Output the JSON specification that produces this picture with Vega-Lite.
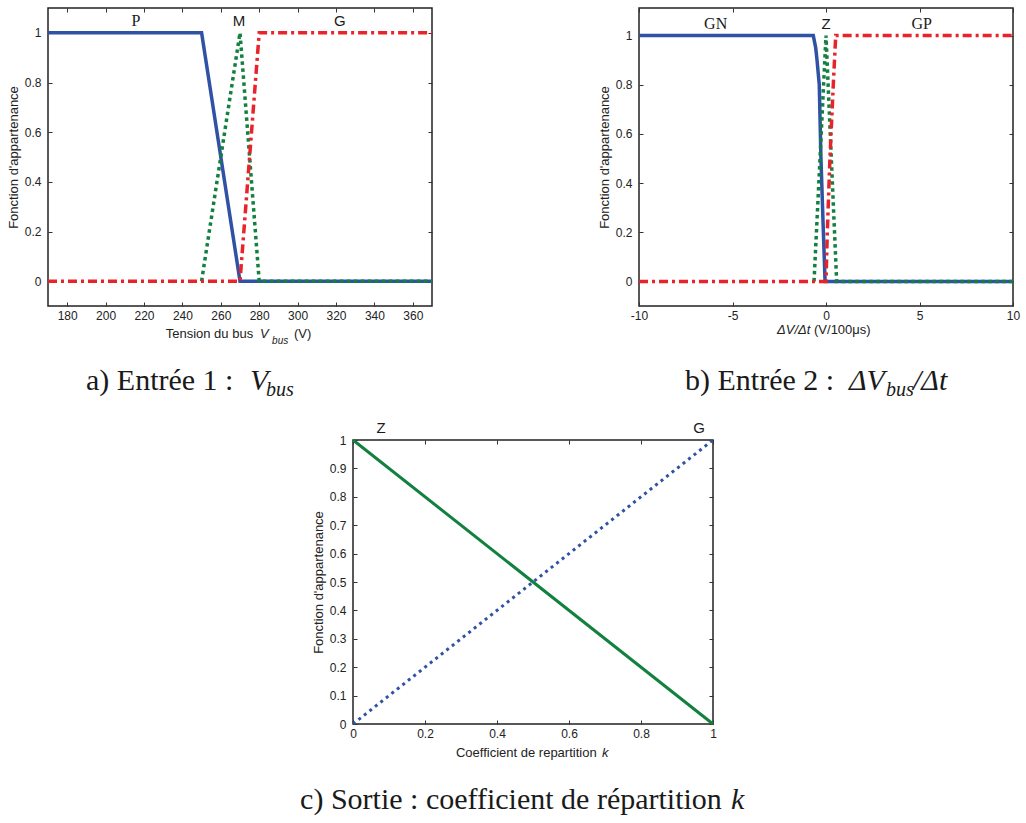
{
  "$schema": "https://vega.github.io/schema/vega-lite/v6.json",
  "background": "white",
  "padding": {"left": 6, "top": 6, "right": 5, "bottom": 5},
  "config": {
    "view": {"stroke": "#222", "strokeWidth": 1.5},
    "axis": {"domain": false, "grid": false, "ticks": true, "tickSize": -4, "tickColor": "#333", "tickWidth": 1, "labelFont": "Liberation Sans", "labelFontSize": 12, "labelColor": "#222", "labelPadding": 11, "labelFlush": false, "labelOverlap": false, "titleFont": "Liberation Sans", "titleFontSize": 13, "titleFontWeight": "normal", "titleColor": "#222", "titlePadding": 4}
  },
  "datasets": {
    "a": [
      {"s": "P", "x": 170, "y": 1}, {"s": "P", "x": 250, "y": 1}, {"s": "P", "x": 270, "y": 0}, {"s": "P", "x": 370, "y": 0},
      {"s": "M", "x": 250, "y": 0}, {"s": "M", "x": 270, "y": 1}, {"s": "M", "x": 280, "y": 0}, {"s": "M", "x": 370, "y": 0},
      {"s": "G", "x": 170, "y": 0}, {"s": "G", "x": 270, "y": 0}, {"s": "G", "x": 280, "y": 1}, {"s": "G", "x": 370, "y": 1}
    ],
    "b": [
      {"s": "GN", "x": -10, "y": 1}, {"s": "GN", "x": -0.68, "y": 1}, {"s": "GN", "x": -0.55, "y": 0.95}, {"s": "GN", "x": -0.48, "y": 0.9}, {"s": "GN", "x": -0.36, "y": 0.8}, {"s": "GN", "x": -0.27, "y": 0.5}, {"s": "GN", "x": -0.14, "y": 0.2}, {"s": "GN", "x": -0.05, "y": 0}, {"s": "GN", "x": 10, "y": 0},
      {"s": "Z", "x": -0.64, "y": 0}, {"s": "Z", "x": 0, "y": 1}, {"s": "Z", "x": 0.57, "y": 0}, {"s": "Z", "x": 10, "y": 0},
      {"s": "GP", "x": -10, "y": 0}, {"s": "GP", "x": 0, "y": 0}, {"s": "GP", "x": 0.07, "y": 0.2}, {"s": "GP", "x": 0.21, "y": 0.5}, {"s": "GP", "x": 0.39, "y": 0.8}, {"s": "GP", "x": 0.52, "y": 1}, {"s": "GP", "x": 10, "y": 1}
    ],
    "c": [
      {"s": "Z", "x": 0, "y": 1}, {"s": "Z", "x": 1, "y": 0},
      {"s": "G", "x": 0, "y": 0}, {"s": "G", "x": 1, "y": 1}
    ],
    "txt": [
      {"p": "a", "r": "lblserif", "t": "P", "x": 215.8, "y": 1.048},
      {"p": "a", "r": "lblsans", "t": "M", "x": 269.5, "y": 1.048},
      {"p": "a", "r": "lblsans", "t": "G", "x": 322, "y": 1.048},
      {"p": "a", "r": "xt", "t": "Tension du bus", "x": 231.3, "y": -0.229},
      {"p": "a", "r": "xt", "t": "(V)", "x": 298.1, "y": -0.229},
      {"p": "a", "r": "xtit", "t": "V", "x": 280.4, "y": -0.229},
      {"p": "a", "r": "xtsub", "t": "bus", "x": 286.7, "y": -0.253},
      {"p": "a", "r": "cap", "t": "a) Entrée 1 :", "x": 189.8, "y": -0.438},
      {"p": "a", "r": "capit", "t": "V", "x": 275.2, "y": -0.438},
      {"p": "a", "r": "capsub", "t": "bus", "x": 283.5, "y": -0.463},
      {"p": "b", "r": "lblserif", "t": "GN", "x": -5.9, "y": 1.047},
      {"p": "b", "r": "lblserif", "t": "GP", "x": 5.12, "y": 1.047},
      {"p": "b", "r": "lblsans", "t": "Z", "x": 0, "y": 1.047},
      {"p": "b", "r": "xtit", "t": "ΔV/Δt", "x": -2.62, "y": -0.214},
      {"p": "b", "r": "xt", "t": "(V/100μs)", "x": -0.64, "y": -0.214},
      {"p": "b", "r": "cap", "t": "b) Entrée 2 :", "x": -7.54, "y": -0.441},
      {"p": "b", "r": "capit", "t": "ΔV", "x": 1.23, "y": -0.441},
      {"p": "b", "r": "capit", "t": "/Δt", "x": 4.65, "y": -0.441},
      {"p": "b", "r": "capsub", "t": "bus", "x": 3.21, "y": -0.466},
      {"p": "c", "r": "lblsans", "t": "Z", "x": 0.078, "y": 1.042},
      {"p": "c", "r": "lblsans", "t": "G", "x": 0.961, "y": 1.042},
      {"p": "c", "r": "xt", "t": "Coefficient de repartition", "x": 0.286, "y": -0.116},
      {"p": "c", "r": "xtit", "t": "k", "x": 0.692, "y": -0.116},
      {"p": "c", "r": "cap", "t": "c) Sortie : coefficient de répartition", "x": -0.147, "y": -0.299},
      {"p": "c", "r": "capit", "t": "k", "x": 1.05, "y": -0.299}
    ]
  },
  "spacing": 19,
  "vconcat": [
    {
      "bounds": "flush",
      "spacing": 207,
      "hconcat": [
        {
          "width": 384,
          "height": 298,
          "resolve": {"axis": {"x": "independent", "y": "independent"}},
          "layer": [
            {"data": {"name": "a"}, "transform": [{"filter": "datum.s=='P'"}],
             "mark": {"type": "line", "color": "#2F52A5", "strokeWidth": 3.5},
             "encoding": {
               "x": {"field": "x", "type": "quantitative", "scale": {"domain": [170, 370], "nice": false, "zero": false}, "axis": {"orient": "bottom", "values": [180, 200, 220, 240, 260, 280, 300, 320, 340, 360], "title": null, "labelPadding": 8}},
               "y": {"field": "y", "type": "quantitative", "scale": {"domain": [-0.1, 1.1], "nice": false, "zero": false}, "axis": {"orient": "left", "values": [0, 0.2, 0.4, 0.6, 0.8, 1], "format": "~g", "title": "Fonction d'appartenance"}}
             }},
            {"data": {"name": "a"}, "transform": [{"filter": "datum.s=='M'"}],
             "mark": {"type": "line", "color": "#12803F", "strokeWidth": 3.5, "strokeDash": [3.5, 3.5], "strokeCap": "butt"},
             "encoding": {"x": {"field": "x", "type": "quantitative", "axis": null}, "y": {"field": "y", "type": "quantitative", "axis": null}}},
            {"data": {"name": "a"}, "transform": [{"filter": "datum.s=='G'"}],
             "mark": {"type": "line", "color": "#E8232A", "strokeWidth": 3.5, "strokeDash": [9, 4, 3, 4], "strokeCap": "butt"},
             "encoding": {"x": {"field": "x", "type": "quantitative", "axis": null}, "y": {"field": "y", "type": "quantitative", "axis": null}}},
            {"data": {"name": "txt"}, "transform": [{"filter": "datum.p=='a' && datum.r=='lblserif'"}],
             "mark": {"type": "text", "font": "Liberation Serif", "fontSize": 16, "color": "#1a1a1a", "baseline": "middle", "align": "center"},
             "encoding": {
               "x": {"field": "x", "type": "quantitative", "axis": {"orient": "top", "values": [180, 200, 220, 240, 260, 280, 300, 320, 340, 360], "labels": false, "title": null}},
               "y": {"field": "y", "type": "quantitative", "axis": {"orient": "right", "values": [0, 0.2, 0.4, 0.6, 0.8, 1], "labels": false, "title": null}},
               "text": {"field": "t"}}},
            {"data": {"name": "txt"}, "transform": [{"filter": "datum.p=='a' && datum.r=='lblsans'"}],
             "mark": {"type": "text", "font": "Liberation Sans", "fontSize": 15, "color": "#1a1a1a", "baseline": "middle", "align": "center"},
             "encoding": {"x": {"field": "x", "type": "quantitative", "axis": null}, "y": {"field": "y", "type": "quantitative", "axis": null}, "text": {"field": "t"}}},
            {"data": {"name": "txt"}, "transform": [{"filter": "datum.p=='a' && datum.r=='xt'"}],
             "mark": {"type": "text", "font": "Liberation Sans", "fontSize": 13, "color": "#222", "baseline": "alphabetic", "align": "left"},
             "encoding": {"x": {"field": "x", "type": "quantitative", "axis": null}, "y": {"field": "y", "type": "quantitative", "axis": null}, "text": {"field": "t"}}},
            {"data": {"name": "txt"}, "transform": [{"filter": "datum.p=='a' && datum.r=='xtit'"}],
             "mark": {"type": "text", "font": "Liberation Sans", "fontSize": 13, "fontStyle": "italic", "color": "#222", "baseline": "alphabetic", "align": "left"},
             "encoding": {"x": {"field": "x", "type": "quantitative", "axis": null}, "y": {"field": "y", "type": "quantitative", "axis": null}, "text": {"field": "t"}}},
            {"data": {"name": "txt"}, "transform": [{"filter": "datum.p=='a' && datum.r=='xtsub'"}],
             "mark": {"type": "text", "font": "Liberation Sans", "fontSize": 10, "fontStyle": "italic", "color": "#222", "baseline": "alphabetic", "align": "left"},
             "encoding": {"x": {"field": "x", "type": "quantitative", "axis": null}, "y": {"field": "y", "type": "quantitative", "axis": null}, "text": {"field": "t"}}},
            {"data": {"name": "txt"}, "transform": [{"filter": "datum.p=='a' && datum.r=='cap'"}],
             "mark": {"type": "text", "font": "Liberation Serif", "fontSize": 30, "color": "#1a1a1a", "baseline": "alphabetic", "align": "left"},
             "encoding": {"x": {"field": "x", "type": "quantitative", "axis": null}, "y": {"field": "y", "type": "quantitative", "axis": null}, "text": {"field": "t"}}},
            {"data": {"name": "txt"}, "transform": [{"filter": "datum.p=='a' && datum.r=='capit'"}],
             "mark": {"type": "text", "font": "Liberation Serif", "fontSize": 30, "fontStyle": "italic", "color": "#1a1a1a", "baseline": "alphabetic", "align": "left"},
             "encoding": {"x": {"field": "x", "type": "quantitative", "axis": null}, "y": {"field": "y", "type": "quantitative", "axis": null}, "text": {"field": "t"}}},
            {"data": {"name": "txt"}, "transform": [{"filter": "datum.p=='a' && datum.r=='capsub'"}],
             "mark": {"type": "text", "font": "Liberation Serif", "fontSize": 20, "fontStyle": "italic", "color": "#1a1a1a", "baseline": "alphabetic", "align": "left"},
             "encoding": {"x": {"field": "x", "type": "quantitative", "axis": null}, "y": {"field": "y", "type": "quantitative", "axis": null}, "text": {"field": "t"}}}
          ]
        },
        {
          "width": 374,
          "height": 298,
          "resolve": {"axis": {"x": "independent", "y": "independent"}},
          "layer": [
            {"data": {"name": "b"}, "transform": [{"filter": "datum.s=='GN'"}],
             "mark": {"type": "line", "color": "#2F52A5", "strokeWidth": 3.5},
             "encoding": {
               "x": {"field": "x", "type": "quantitative", "scale": {"domain": [-10, 10], "nice": false, "zero": false}, "axis": {"orient": "bottom", "values": [-10, -5, 0, 5, 10], "labelExpr": "'' + datum.value", "title": null, "labelPadding": 8}},
               "y": {"field": "y", "type": "quantitative", "scale": {"domain": [-0.1, 1.112], "nice": false, "zero": false}, "axis": {"orient": "left", "values": [0, 0.2, 0.4, 0.6, 0.8, 1], "format": "~g", "title": "Fonction d'appartenance"}}
             }},
            {"data": {"name": "b"}, "transform": [{"filter": "datum.s=='Z'"}],
             "mark": {"type": "line", "color": "#12803F", "strokeWidth": 3.5, "strokeDash": [3.5, 3.5], "strokeCap": "butt"},
             "encoding": {"x": {"field": "x", "type": "quantitative", "axis": null}, "y": {"field": "y", "type": "quantitative", "axis": null}}},
            {"data": {"name": "b"}, "transform": [{"filter": "datum.s=='GP'"}],
             "mark": {"type": "line", "color": "#E8232A", "strokeWidth": 3.5, "strokeDash": [9, 4, 3, 4], "strokeCap": "butt"},
             "encoding": {"x": {"field": "x", "type": "quantitative", "axis": null}, "y": {"field": "y", "type": "quantitative", "axis": null}}},
            {"data": {"name": "txt"}, "transform": [{"filter": "datum.p=='b' && datum.r=='lblserif'"}],
             "mark": {"type": "text", "font": "Liberation Serif", "fontSize": 16, "color": "#1a1a1a", "baseline": "middle", "align": "center"},
             "encoding": {
               "x": {"field": "x", "type": "quantitative", "axis": {"orient": "top", "values": [-10, -5, 0, 5, 10], "labels": false, "title": null}},
               "y": {"field": "y", "type": "quantitative", "axis": {"orient": "right", "values": [0, 0.2, 0.4, 0.6, 0.8, 1], "labels": false, "title": null}},
               "text": {"field": "t"}}},
            {"data": {"name": "txt"}, "transform": [{"filter": "datum.p=='b' && datum.r=='lblsans'"}],
             "mark": {"type": "text", "font": "Liberation Sans", "fontSize": 15, "color": "#1a1a1a", "baseline": "middle", "align": "center"},
             "encoding": {"x": {"field": "x", "type": "quantitative", "axis": null}, "y": {"field": "y", "type": "quantitative", "axis": null}, "text": {"field": "t"}}},
            {"data": {"name": "txt"}, "transform": [{"filter": "datum.p=='b' && datum.r=='xt'"}],
             "mark": {"type": "text", "font": "Liberation Sans", "fontSize": 13, "color": "#222", "baseline": "alphabetic", "align": "left"},
             "encoding": {"x": {"field": "x", "type": "quantitative", "axis": null}, "y": {"field": "y", "type": "quantitative", "axis": null}, "text": {"field": "t"}}},
            {"data": {"name": "txt"}, "transform": [{"filter": "datum.p=='b' && datum.r=='xtit'"}],
             "mark": {"type": "text", "font": "Liberation Sans", "fontSize": 13, "fontStyle": "italic", "color": "#222", "baseline": "alphabetic", "align": "left"},
             "encoding": {"x": {"field": "x", "type": "quantitative", "axis": null}, "y": {"field": "y", "type": "quantitative", "axis": null}, "text": {"field": "t"}}},
            {"data": {"name": "txt"}, "transform": [{"filter": "datum.p=='b' && datum.r=='cap'"}],
             "mark": {"type": "text", "font": "Liberation Serif", "fontSize": 30, "color": "#1a1a1a", "baseline": "alphabetic", "align": "left"},
             "encoding": {"x": {"field": "x", "type": "quantitative", "axis": null}, "y": {"field": "y", "type": "quantitative", "axis": null}, "text": {"field": "t"}}},
            {"data": {"name": "txt"}, "transform": [{"filter": "datum.p=='b' && datum.r=='capit'"}],
             "mark": {"type": "text", "font": "Liberation Serif", "fontSize": 30, "fontStyle": "italic", "color": "#1a1a1a", "baseline": "alphabetic", "align": "left"},
             "encoding": {"x": {"field": "x", "type": "quantitative", "axis": null}, "y": {"field": "y", "type": "quantitative", "axis": null}, "text": {"field": "t"}}},
            {"data": {"name": "txt"}, "transform": [{"filter": "datum.p=='b' && datum.r=='capsub'"}],
             "mark": {"type": "text", "font": "Liberation Serif", "fontSize": 20, "fontStyle": "italic", "color": "#1a1a1a", "baseline": "alphabetic", "align": "left"},
             "encoding": {"x": {"field": "x", "type": "quantitative", "axis": null}, "y": {"field": "y", "type": "quantitative", "axis": null}, "text": {"field": "t"}}}
          ]
        }
      ]
    },
    {
      "bounds": "flush",
      "spacing": 304,
      "hconcat": [
        {
          "width": 1,
          "height": 1,
          "view": {"stroke": null},
          "data": {"values": [{"v": 0}]},
          "mark": {"type": "point", "opacity": 0},
          "encoding": {"x": {"field": "v", "type": "quantitative", "axis": null}, "y": {"field": "v", "type": "quantitative", "axis": null}}
        },
        {
          "width": 360,
          "height": 284,
          "resolve": {"axis": {"x": "independent", "y": "independent"}},
          "layer": [
            {"data": {"name": "c"}, "transform": [{"filter": "datum.s=='G'"}],
             "mark": {"type": "line", "color": "#2F52A5", "strokeWidth": 3, "strokeDash": [3, 4], "strokeCap": "butt"},
             "encoding": {
               "x": {"field": "x", "type": "quantitative", "scale": {"domain": [0, 1], "nice": false, "zero": false}, "axis": {"orient": "bottom", "values": [0, 0.2, 0.4, 0.6, 0.8, 1], "format": "~g", "title": null, "labelPadding": 8}},
               "y": {"field": "y", "type": "quantitative", "scale": {"domain": [0, 1], "nice": false, "zero": false}, "axis": {"orient": "left", "values": [0, 0.1, 0.2, 0.3, 0.4, 0.5, 0.6, 0.7, 0.8, 0.9, 1], "format": "~g", "title": "Fonction d'appartenance"}}
             }},
            {"data": {"name": "c"}, "transform": [{"filter": "datum.s=='Z'"}],
             "mark": {"type": "line", "color": "#12803F", "strokeWidth": 3},
             "encoding": {"x": {"field": "x", "type": "quantitative", "axis": null}, "y": {"field": "y", "type": "quantitative", "axis": null}}},
            {"data": {"name": "txt"}, "transform": [{"filter": "datum.p=='c' && datum.r=='lblsans'"}],
             "mark": {"type": "text", "font": "Liberation Sans", "fontSize": 15, "color": "#1a1a1a", "baseline": "middle", "align": "center"},
             "encoding": {
               "x": {"field": "x", "type": "quantitative", "axis": {"orient": "top", "values": [0, 0.2, 0.4, 0.6, 0.8, 1], "labels": false, "title": null}},
               "y": {"field": "y", "type": "quantitative", "axis": {"orient": "right", "values": [0, 0.1, 0.2, 0.3, 0.4, 0.5, 0.6, 0.7, 0.8, 0.9, 1], "labels": false, "title": null}},
               "text": {"field": "t"}}},
            {"data": {"name": "txt"}, "transform": [{"filter": "datum.p=='c' && datum.r=='xt'"}],
             "mark": {"type": "text", "font": "Liberation Sans", "fontSize": 13, "color": "#222", "baseline": "alphabetic", "align": "left"},
             "encoding": {"x": {"field": "x", "type": "quantitative", "axis": null}, "y": {"field": "y", "type": "quantitative", "axis": null}, "text": {"field": "t"}}},
            {"data": {"name": "txt"}, "transform": [{"filter": "datum.p=='c' && datum.r=='xtit'"}],
             "mark": {"type": "text", "font": "Liberation Sans", "fontSize": 13, "fontStyle": "italic", "color": "#222", "baseline": "alphabetic", "align": "left"},
             "encoding": {"x": {"field": "x", "type": "quantitative", "axis": null}, "y": {"field": "y", "type": "quantitative", "axis": null}, "text": {"field": "t"}}},
            {"data": {"name": "txt"}, "transform": [{"filter": "datum.p=='c' && datum.r=='cap'"}],
             "mark": {"type": "text", "font": "Liberation Serif", "fontSize": 30, "color": "#1a1a1a", "baseline": "alphabetic", "align": "left"},
             "encoding": {"x": {"field": "x", "type": "quantitative", "axis": null}, "y": {"field": "y", "type": "quantitative", "axis": null}, "text": {"field": "t"}}},
            {"data": {"name": "txt"}, "transform": [{"filter": "datum.p=='c' && datum.r=='capit'"}],
             "mark": {"type": "text", "font": "Liberation Serif", "fontSize": 30, "fontStyle": "italic", "color": "#1a1a1a", "baseline": "alphabetic", "align": "left"},
             "encoding": {"x": {"field": "x", "type": "quantitative", "axis": null}, "y": {"field": "y", "type": "quantitative", "axis": null}, "text": {"field": "t"}}}
          ]
        }
      ]
    }
  ]
}
